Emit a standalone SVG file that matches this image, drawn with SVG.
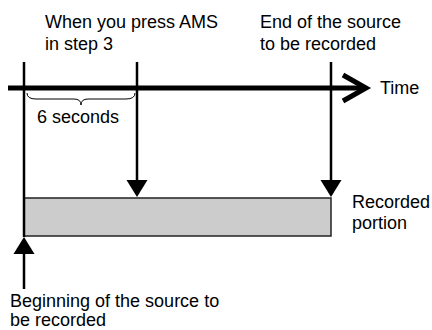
<svg xmlns="http://www.w3.org/2000/svg" width="432" height="330" viewBox="0 0 432 330">
<style>
text{font-family:"Liberation Sans",Arial,sans-serif;font-size:18px;fill:#000}
.v{stroke:#000;stroke-width:2.5;fill:none}
.ah{fill:#000;stroke:none}
</style>
<rect width="432" height="330" fill="#fff"/>
<g id="recorded-portion">
<rect x="24" y="198" width="307" height="38" fill="#cccccc" stroke="#222" stroke-width="1.5"/>
<text x="352" y="208">Recorded</text>
<text x="352" y="229">portion</text>
</g>
<g id="time-axis">
<line x1="8" y1="88" x2="364" y2="88" stroke="#000" stroke-width="5"/>
<polyline points="343,75 366,88 343,101" fill="none" stroke="#000" stroke-width="5" stroke-linejoin="miter"/>
<text x="380" y="94">Time</text>
</g>
<g id="ams-press">
<text x="45" y="28">When you press AMS</text>
<text x="45" y="50">in step 3</text>
</g>
<g id="end-source">
<text x="260" y="28">End of the source</text>
<text x="260" y="50">to be recorded</text>
</g>
<g id="beginning-source">
<text x="10" y="307">Beginning of the source to</text>
<text x="10" y="326">be recorded</text>
</g>
<g id="six-seconds">
<path d="M27,93 Q27,99 36,99 L74,99 Q81,99 81,105 Q81,99 88,99 L126,99 Q135,99 135,93" fill="none" stroke="#000" stroke-width="1"/>
<text x="37" y="123">6 seconds</text>
</g>
<g id="connectors">
<line class="v" x1="24" y1="62" x2="24" y2="237"/>
<line class="v" x1="137" y1="62" x2="137" y2="182"/>
<polygon class="ah" points="126.5,180 147.5,180 137,197"/>
<line class="v" x1="331" y1="62" x2="331" y2="182"/>
<polygon class="ah" points="320.5,180 341.5,180 331,197"/>
<polygon class="ah" points="13.5,254 34.5,254 24,237"/>
<line class="v" x1="24" y1="252" x2="24" y2="289"/>
</g>
</svg>
